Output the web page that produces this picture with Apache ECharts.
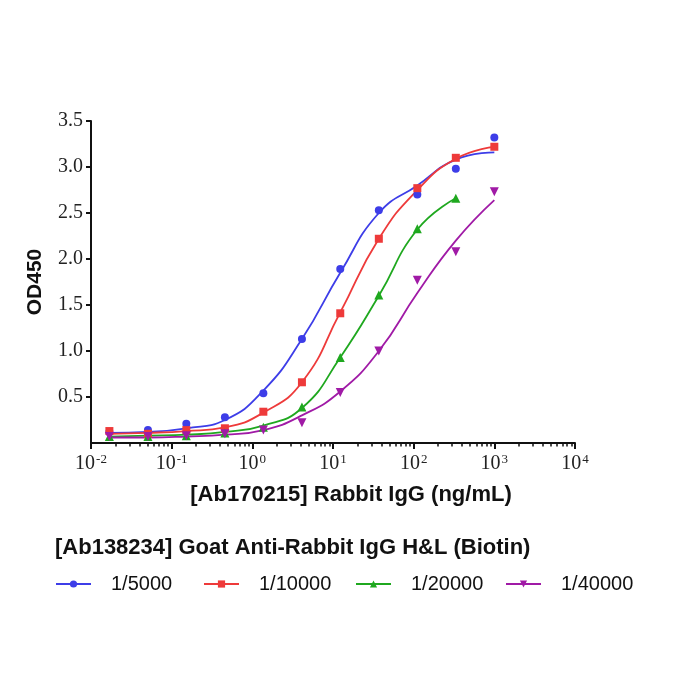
<!DOCTYPE html>
<html>
<head>
<meta charset="utf-8">
<script src="https://cdn.jsdelivr.net/npm/echarts@6/dist/echarts.min.js"></script>
<style>
  html, body { margin: 0; padding: 0; background: #fff; }
  #chart { width: 700px; height: 700px; }
</style>
</head>
<body>
<div id="chart"></div>
<script>
// Rabbit IgG concentration, ng/mL (3-fold dilutions)
var conc = [0.0169, 0.0508, 0.152, 0.457, 1.37, 4.12, 12.3, 37.0, 111, 333, 1000];
var names = ['1/5000', '1/10000', '1/20000', '1/40000'];
var colors = ['#3d3de8', '#ee3a3a', '#1fa81f', '#a01aa6'];

// measured OD450
var od5000  = [0.12, 0.14, 0.21, 0.28, 0.54, 1.13, 1.89, 2.53, 2.70, 2.98, 3.32];
var od10000 = [0.13, 0.10, 0.14, 0.16, 0.34, 0.66, 1.41, 2.22, 2.77, 3.10, 3.22];
var od20000 = [0.07, 0.07, 0.08, 0.11, 0.17, 0.39, 0.93, 1.61, 2.33, 2.66];
var od40000 = [0.07, 0.07, 0.08, 0.10, 0.14, 0.22, 0.55, 1.00, 1.77, 2.08, 2.73];

// fitted curves at the same concentrations
var fit5000  = [0.11, 0.12, 0.16, 0.25, 0.57, 1.13, 1.85, 2.50, 2.80, 3.08, 3.16];
var fit10000 = [0.10, 0.11, 0.13, 0.17, 0.33, 0.66, 1.42, 2.22, 2.75, 3.09, 3.22];
var fit20000 = [0.07, 0.08, 0.09, 0.12, 0.19, 0.38, 0.93, 1.60, 2.32, 2.66];
var fit40000 = [0.06, 0.06, 0.07, 0.09, 0.14, 0.30, 0.56, 1.00, 1.63, 2.20, 2.64];

// axis ticks
var xMajor = [0.01, 0.1, 1, 10, 100, 1000, 10000];
var xExp = ['-2', '-1', '0', '1', '2', '3', '4'];
var yTicks = [0.5, 1.0, 1.5, 2.0, 2.5, 3.0, 3.5];

var xMinor = [];
for (var d = 0; d < 6; d++) {
  for (var k = 2; k <= 9; k++) xMinor.push(k * xMajor[d]);
}

function pairs(ys) {
  return ys.map(function (y, i) { return [conc[i], y]; });
}

var odSets = [od5000, od10000, od20000, od40000];
var fitSets = [fit5000, fit10000, fit20000, fit40000];
var symbols = ['circle', 'rect', 'triangle', 'triangle'];
var rotates = [0, 0, 0, 180];
var sizes = [8, 8, 9, 9];

var series = [];
// curves first so the legend takes its icon from them
names.forEach(function (n, i) {
  series.push({
    name: n, type: 'line', smooth: true, showSymbol: false,
    symbol: symbols[i], symbolRotate: rotates[i],
    data: pairs(fitSets[i]),
    lineStyle: { color: colors[i], width: 1.8 },
    itemStyle: { color: colors[i] },
    z: 2
  });
});
names.forEach(function (n, i) {
  series.push({
    name: n, type: 'scatter',
    symbol: symbols[i], symbolRotate: rotates[i], symbolSize: sizes[i],
    data: pairs(odSets[i]),
    itemStyle: { color: colors[i], opacity: 1 },
    z: 3
  });
});

// one legend per column, evenly spaced like the original
var legendLeft = [50, 198, 350, 500];
var legends = names.map(function (n, i) {
  return {
    data: [n], left: legendLeft[i], top: 569, itemWidth: 35, itemHeight: 9,
    textStyle: { fontFamily: 'Liberation Sans', fontSize: 20, color: '#111', padding: [0, 0, 0, 15] }
  };
});

var chart = echarts.init(document.getElementById('chart'));
chart.setOption({
  animation: false,
  backgroundColor: '#fff',
  grid: { left: 91, right: 125, top: 121, bottom: 257 },
  xAxis: [{
    type: 'log', logBase: 10, min: 0.01, max: 10000,
    name: '[Ab170215] Rabbit IgG (ng/mL)',
    nameLocation: 'middle', nameGap: 41,
    nameTextStyle: { fontFamily: 'Liberation Sans', fontWeight: 'bold', fontSize: 22, color: '#111', padding: [0, 0, 0, 36] },
    axisLine: { lineStyle: { color: '#111', width: 2 } },
    axisTick: { length: 6, lineStyle: { color: '#111', width: 2 }, customValues: xMajor },
    axisLabel: {
      customValues: xMajor, margin: 10,
      formatter: function (v, idx) {
        var j = xMajor.indexOf(v);
        return '{b|10}{s|' + (j >= 0 ? xExp[j] : xExp[idx]) + '}';
      },
      rich: {
        b: { fontFamily: 'Liberation Serif', fontSize: 20, color: '#222', verticalAlign: 'bottom' },
        s: { fontFamily: 'Liberation Serif', fontSize: 13, color: '#222', verticalAlign: 'bottom', padding: [0, 0, 8, 1] }
      }
    },
    splitLine: { show: false }
  }, {
    type: 'log', logBase: 10, min: 0.01, max: 10000, position: 'bottom',
    axisLine: { show: false },
    axisTick: { length: 3.5, lineStyle: { color: '#111', width: 1.5 }, customValues: xMinor },
    axisLabel: { show: false },
    splitLine: { show: false }
  }],
  yAxis: {
    type: 'value', min: 0, max: 3.5, interval: 0.5,
    name: 'OD450', nameLocation: 'middle', nameGap: 45,
    nameTextStyle: { fontFamily: 'Liberation Sans', fontWeight: 'bold', fontSize: 21, color: '#111' },
    axisLine: { show: true, lineStyle: { color: '#111', width: 2 } },
    axisTick: { show: true, length: 5, lineStyle: { color: '#111', width: 2 }, customValues: yTicks },
    axisLabel: {
      customValues: yTicks, margin: 8,
      fontFamily: 'Liberation Serif', fontSize: 20, color: '#222',
      formatter: function (v) { return v.toFixed(1); }
    },
    splitLine: { show: false }
  },
  legend: legends,
  graphic: [{
    type: 'text', left: 55, top: 537,
    style: { text: '[Ab138234] Goat Anti-Rabbit IgG H&L (Biotin)', font: 'bold 22px "Liberation Sans"', fill: '#111' }
  }],
  series: series
});
</script>
</body>
</html>
